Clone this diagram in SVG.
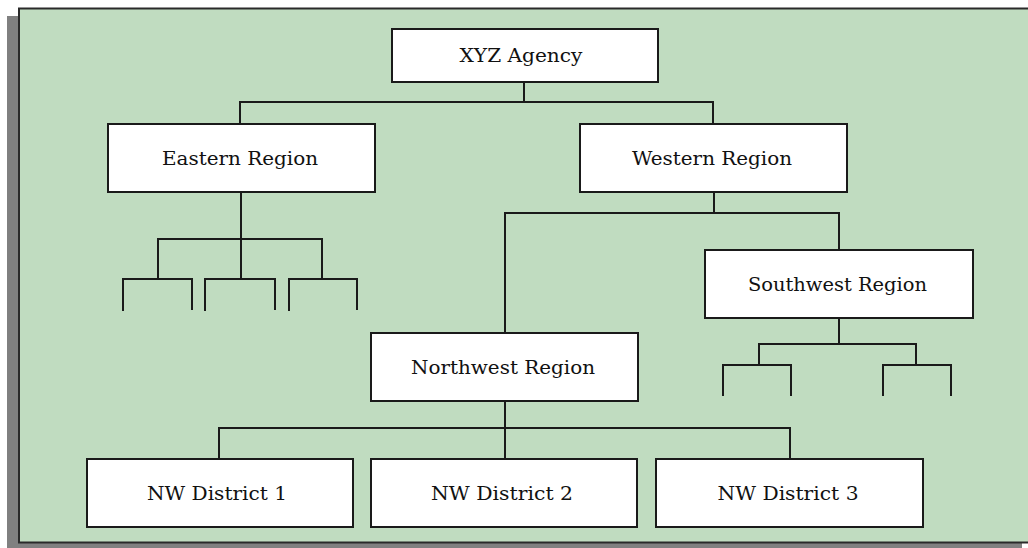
<svg xmlns="http://www.w3.org/2000/svg" width="1028" height="548" viewBox="0 0 1028 548">
<style>
.box{fill:#ffffff;stroke:#1a1a1a;stroke-width:2}
.ln{fill:none;stroke:#1a1a1a;stroke-width:2;stroke-linecap:square}
.lbl{font-size:19px;fill:#111;text-anchor:middle}
</style>
<rect x="0" y="0" width="1028" height="548" fill="#ffffff"/>
<rect id="shadow" x="7" y="16" width="1015" height="540" fill="#808080"/>
<rect id="panel" x="19" y="8.5" width="1040" height="534" fill="#c0dcc0" stroke="#2a2a2a" stroke-width="2"/>
<g id="connectors">
<polyline class="ln" points="524,82 524,102"/>
<polyline class="ln" points="240,124 240,102 713,102 713,124"/>
<polyline class="ln" points="241,192 241,277"/>
<polyline class="ln" points="158,279 158,239 322,239 322,277"/>
<polyline class="ln" points="123,310 123,279 192,279 192,309"/>
<polyline class="ln" points="205,310 205,279 275,279 275,309"/>
<polyline class="ln" points="289,310 289,279 357,279 357,309"/>
<polyline class="ln" points="714,192 714,213"/>
<polyline class="ln" points="505,333 505,213 839,213 839,250"/>
<polyline class="ln" points="839,318 839,344"/>
<polyline class="ln" points="759,365 759,344 916,344 916,365"/>
<polyline class="ln" points="723,395 723,365 791,365 791,395"/>
<polyline class="ln" points="883,395 883,365 951,365 951,395"/>
<polyline class="ln" points="505,401 505,459"/>
<polyline class="ln" points="219,459 219,428 790,428 790,459"/>
</g>
<g id="xyz"><rect class="box" x="392" y="29" width="266" height="53"/><text class="lbl" font-family="'DejaVu Serif', 'Liberation Serif', serif" x="521" y="62" textLength="123" lengthAdjust="spacingAndGlyphs">XYZ Agency</text></g>
<g id="eastern"><rect class="box" x="108" y="124" width="267" height="68"/><text class="lbl" font-family="'DejaVu Serif', 'Liberation Serif', serif" x="240" y="165" textLength="156" lengthAdjust="spacingAndGlyphs">Eastern Region</text></g>
<g id="western"><rect class="box" x="580" y="124" width="267" height="68"/><text class="lbl" font-family="'DejaVu Serif', 'Liberation Serif', serif" x="712" y="165" textLength="160" lengthAdjust="spacingAndGlyphs">Western Region</text></g>
<g id="southwest"><rect class="box" x="705" y="250" width="268" height="68"/><text class="lbl" font-family="'DejaVu Serif', 'Liberation Serif', serif" x="837.5" y="291" textLength="179" lengthAdjust="spacingAndGlyphs">Southwest Region</text></g>
<g id="northwest"><rect class="box" x="371" y="333" width="267" height="68"/><text class="lbl" font-family="'DejaVu Serif', 'Liberation Serif', serif" x="503" y="374" textLength="184" lengthAdjust="spacingAndGlyphs">Northwest Region</text></g>
<g id="nw1"><rect class="box" x="87" y="459" width="266" height="68"/><text class="lbl" font-family="'DejaVu Serif', 'Liberation Serif', serif" x="217" y="500" textLength="140" lengthAdjust="spacingAndGlyphs">NW District 1</text></g>
<g id="nw2"><rect class="box" x="371" y="459" width="266" height="68"/><text class="lbl" font-family="'DejaVu Serif', 'Liberation Serif', serif" x="502" y="500" textLength="142" lengthAdjust="spacingAndGlyphs">NW District 2</text></g>
<g id="nw3"><rect class="box" x="656" y="459" width="267" height="68"/><text class="lbl" font-family="'DejaVu Serif', 'Liberation Serif', serif" x="788" y="500" textLength="141" lengthAdjust="spacingAndGlyphs">NW District 3</text></g>
</svg>
